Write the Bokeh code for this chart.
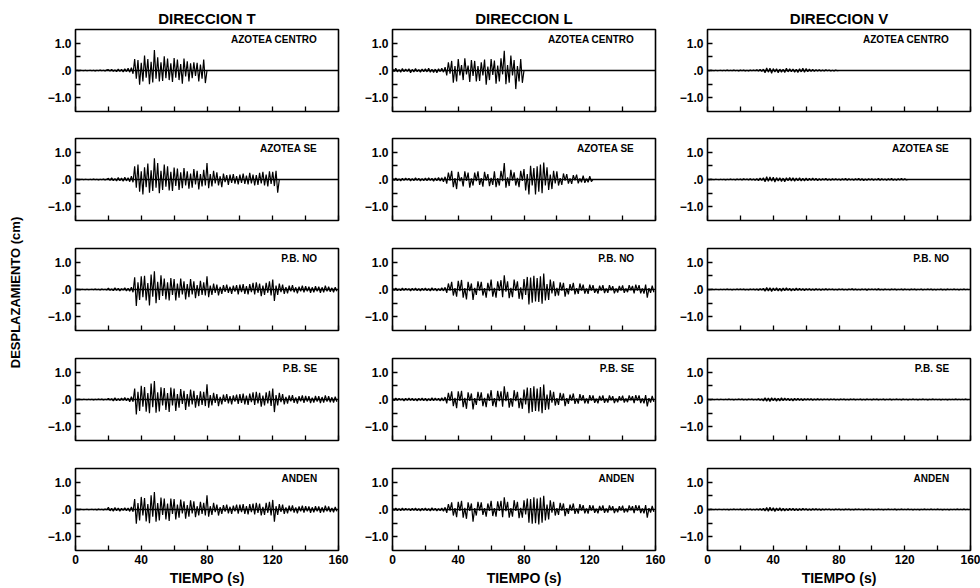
import math
import numpy as np
from bokeh.plotting import figure
from bokeh.layouts import column, row
from bokeh.models import FixedTicker, Span, Label
from bokeh.embed import file_html
from bokeh.resources import INLINE

FONT = "Liberation Sans"

# ---------------- data (displacement in hundredths of cm, sampled every DT s) ----
DT = 1.0
SCALE = 0.01

COLUMN_TITLES = ["DIRECCION T", "DIRECCION L", "DIRECCION V"]
STATIONS = ["AZOTEA CENTRO", "AZOTEA SE", "P.B. NO", "P.B. SE", "ANDEN"]
X_TICKS = [0, 40, 80, 120, 160]
X_MINOR = [20, 60, 100, 140]
X_ALL = [0, 20, 40, 60, 80, 100, 120, 140, 160]
Y_TICKS = [-1, 0, 1]
Y_TICK_LABELS = ["\u22121.0", ".0", "1.0"]
Y_MINOR = [-0.5, 0.5]
Y_LABEL = "DESPLAZAMIENTO (cm)"
X_LABEL = "TIEMPO (s)"

T_AZOTEA_CENTRO = [
    0, 1, -1, 1, 0, -1, 1, -1, 0, 1,
    -1, 1, -2, 1, -1, 2, -1, 1, -2, 2,
    3, -2, 4, -3, 2, -4, 5, -3, 4, -5,
    6, -4, 8, -6, 10, -12, 42, -30, 38, -52,
    28, -40, 55, -26, 42, -50, 32, -44, 75, -30,
    48, -40, 30, -38, 52, -28, 44, -35, 26, -42,
    46, -26, 40, -35, 24, -48, 44, -22, 34, -40,
    26, -28, 30, -20, 28, -40, 22, -30, 40, -46,
    0]

T_AZOTEA_SE = [
    0, 1, -1, 0, 1, -1, 1, 0, -1, 1,
    -1, 2, -1, 1, -2, 1, -1, 2, -2, 1,
    4, -3, 6, -4, 3, -5, 7, -4, 5, -6,
    8, -5, 6, -8, 12, -10, 48, -30, 55, -45,
    30, -55, 45, -28, 58, -48, 34, -42, 78, -30,
    60, -50, 32, -38, 55, -26, 48, -40, 28, -42,
    44, -24, 40, -38, 26, -32, 42, -22, 30, -34,
    22, -30, 38, -18, 32, -36, 20, -25, 35, -22,
    60, -32, 20, -25, 32, -14, 26, -22, 12, -28,
    22, -10, 16, -20, 18, -12, 20, -15, 12, -18,
    18, -12, 22, -16, 14, -18, 24, -14, 18, -22,
    16, -20, 24, -14, 28, -22, 18, -25, 30, -16,
    28, -24, 32, -48, 0]

T_PB_NO = [
    0, 1, 0, -1, 1, 0, -1, 1, -1, 0,
    1, -1, 2, -1, 1, -2, 2, -1, 1, -2,
    5, -3, 2, -4, 6, -3, 4, -5, 3, -2,
    6, -5, 4, -6, 8, -10, 45, -60, 26, -38,
    48, -28, 50, -40, 24, -58, 55, -26, 67, -50,
    28, -38, 52, -24, 40, -36, 26, -40, 42, -20,
    38, -40, 22, -30, 40, -18, 30, -36, 20, -28,
    38, -18, 30, -32, 16, -24, 32, -20, 26, -22,
    48, -28, 14, -20, 22, -12, 18, -22, 10, -16,
    16, -9, 18, -12, 10, -16, 14, -8, 16, -18,
    18, -10, 20, -16, 12, -18, 20, -10, 24, -18,
    26, -12, 22, -24, 14, -20, 24, -12, 30, -22,
    36, -42, 14, -20, 22, -10, 18, -16, 9, -14,
    14, -7, 16, -10, 8, -14, 10, -7, 14, -10,
    12, -7, 10, -12, 8, -10, 12, -7, 10, -12,
    8, -10, 14, -7, 10, -8, 6, -10, 8, -6]

T_PB_SE = [
    0, -1, 1, 0, -1, 1, 0, -1, 1, -1,
    1, -2, 1, -1, 2, -1, 2, -2, 1, -1,
    4, -2, 3, -5, 6, -4, 3, -4, 5, -3,
    7, -4, 5, -8, 10, -8, 40, -55, 28, -42,
    50, -26, 46, -45, 24, -50, 58, -28, 68, -48,
    26, -44, 45, -22, 42, -38, 24, -46, 44, -22,
    40, -42, 20, -30, 38, -16, 32, -38, 20, -26,
    36, -18, 32, -30, 16, -24, 30, -20, 28, -24,
    56, -30, 16, -22, 24, -12, 20, -24, 10, -18,
    18, -9, 20, -14, 12, -18, 15, -8, 18, -16,
    20, -12, 22, -18, 14, -20, 22, -10, 26, -20,
    28, -14, 24, -26, 14, -22, 26, -14, 32, -24,
    40, -46, 16, -22, 24, -10, 20, -18, 10, -15,
    15, -7, 16, -12, 8, -15, 12, -7, 15, -12,
    13, -8, 12, -13, 7, -11, 13, -8, 12, -13,
    9, -11, 15, -8, 12, -10, 8, -11, 10, -8]

T_ANDEN = [
    0, 1, -1, 1, 0, -1, 0, 1, -1, 0,
    1, -1, 1, -2, 2, -1, 1, -2, 2, -1,
    8, -5, 4, -6, 7, -4, 5, -6, 4, -3,
    6, -4, 5, -7, 9, -8, 38, -52, 24, -40,
    46, -22, 42, -44, 20, -50, 52, -26, 64, -45,
    24, -40, 44, -20, 40, -36, 22, -42, 40, -16,
    38, -36, 18, -30, 36, -14, 30, -34, 16, -26,
    34, -14, 30, -28, 12, -22, 28, -16, 24, -22,
    52, -26, 12, -20, 24, -10, 18, -22, 9, -16,
    16, -8, 18, -14, 10, -16, 14, -7, 18, -15,
    18, -10, 20, -16, 12, -18, 20, -10, 22, -18,
    24, -12, 22, -22, 10, -20, 24, -12, 28, -22,
    35, -45, 12, -20, 20, -9, 18, -16, 8, -14,
    14, -7, 15, -11, 8, -14, 11, -7, 14, -11,
    12, -7, 11, -12, 8, -10, 12, -7, 11, -12,
    8, -10, 14, -7, 11, -9, 6, -10, 9, -7]

L_AZOTEA_CENTRO = [
    6, -4, 8, -5, 3, -6, 7, -4, 5, -3,
    6, -8, 4, -5, 7, -4, 3, -6, 5, -4,
    6, -5, 8, -6, 4, -7, 5, -8, 6, -4,
    8, -6, 12, -18, 30, -12, 35, -45, 16, -40,
    42, -18, 20, -35, 45, -14, 18, -42, 38, -20,
    35, -40, 16, -38, 30, -18, 40, -52, 14, -35,
    42, -16, 36, -48, 18, -40, 45, -14, 72, -50,
    20, -45, 55, -18, 38, -68, 16, -40, 42, -45,
    0]

L_AZOTEA_SE = [
    4, -3, 5, -4, 2, -5, 4, -3, 5, -2,
    4, -5, 3, -4, 6, -3, 4, -5, 3, -4,
    5, -4, 6, -3, 4, -6, 5, -4, 7, -5,
    6, -8, 10, -15, 25, -4, 32, -28, 5, -35,
    28, -6, 8, -25, 30, -5, 25, -30, 4, -22,
    25, -6, 30, -20, 5, -26, 28, -4, 20, -24,
    6, -20, 30, -28, 5, -22, 32, -6, 60, -30,
    8, -24, 35, -4, 26, -22, 6, -28, 32, -5,
    38, -40, 20, -55, 50, -22, 42, -55, 48, -45,
    55, -50, 62, -22, 45, -38, 18, -35, 32, -14,
    30, -22, 5, -20, 22, -4, 20, -15, 4, -16,
    16, -3, 18, -14, 4, -10, 14, -12, 3, -10,
    12, -8, 0]

L_PB_NO = [
    4, -3, 5, -4, 2, -4, 5, -3, 4, -2,
    3, -5, 4, -3, 5, -4, 3, -5, 4, -3,
    5, -4, 3, -5, 6, -3, 4, -5, 3, -4,
    6, -5, 8, -12, 22, -4, 28, -22, 5, -26,
    32, -6, 35, -30, 5, -36, 28, -6, 22, -38,
    6, -20, 30, -4, 28, -22, 5, -30, 24, -6,
    36, -26, 6, -30, 30, -5, 34, -28, 52, -8,
    30, -32, 6, -28, 36, -5, 30, -34, 8, -36,
    38, -20, 46, -55, 44, -48, 50, -44, 42, -46,
    48, -52, 58, -40, 20, -38, 36, -14, 30, -24,
    6, -22, 26, -4, 24, -26, 5, -18, 20, -4,
    24, -18, 5, -16, 22, -4, 18, -15, 4, -16,
    18, -4, 16, -12, 3, -15, 14, -4, 16, -13,
    4, -12, 16, -3, 12, -14, 4, -11, 13, -4,
    15, -12, 4, -10, 16, -3, 13, -14, 18, -4,
    16, -14, 4, -15, 18, -30, 5, -12, 14, -10]

L_PB_SE = [
    3, -4, 5, -3, 4, -2, 3, -5, 4, -3,
    5, -3, 4, -4, 3, -5, 4, -3, 5, -4,
    4, -5, 3, -4, 6, -4, 5, -3, 4, -5,
    6, -5, 9, -14, 24, -5, 30, -24, 6, -32,
    30, -5, 32, -28, 6, -34, 26, -5, 22, -36,
    5, -20, 28, -5, 26, -24, 6, -28, 22, -5,
    34, -24, 5, -28, 32, -6, 30, -26, 48, -6,
    28, -30, 5, -26, 34, -6, 28, -32, 6, -34,
    36, -18, 44, -50, 42, -46, 48, -42, 40, -44,
    46, -50, 55, -38, 18, -36, 34, -12, 28, -22,
    5, -20, 24, -4, 22, -24, 5, -16, 18, -4,
    22, -16, 4, -15, 20, -4, 16, -14, 4, -15,
    16, -4, 15, -12, 3, -14, 13, -4, 15, -12,
    4, -11, 15, -3, 12, -13, 4, -10, 12, -4,
    14, -11, 4, -10, 15, -3, 12, -13, 16, -4,
    15, -13, 4, -14, 16, -25, 5, -11, 13, -9]

L_ANDEN = [
    4, -3, 5, -4, 3, -4, 5, -3, 4, -2,
    3, -4, 4, -3, 5, -4, 3, -5, 4, -3,
    5, -4, 3, -5, 6, -3, 4, -5, 3, -4,
    5, -6, 8, -12, 20, -4, 26, -22, 5, -28,
    28, -5, 32, -30, 6, -34, 26, -5, 22, -45,
    5, -22, 28, -4, 26, -20, 5, -26, 22, -5,
    32, -24, 5, -26, 30, -5, 32, -28, 45, -6,
    28, -30, 5, -26, 34, -5, 28, -32, 6, -30,
    34, -18, 40, -48, 38, -52, 45, -50, 40, -55,
    44, -48, 50, -40, 18, -36, 34, -12, 28, -22,
    5, -20, 24, -4, 22, -24, 5, -16, 18, -4,
    22, -16, 4, -15, 20, -4, 16, -14, 4, -15,
    16, -4, 15, -12, 3, -14, 13, -4, 15, -12,
    4, -11, 15, -3, 12, -13, 4, -10, 12, -4,
    14, -11, 4, -10, 15, -3, 12, -13, 16, -4,
    15, -13, 4, -14, 16, -30, 5, -11, 13, -9]

V_AZOTEA_CENTRO = [
    1, -1, 1, 0, -1, 1, -1, 0, 1, -1,
    1, -1, 2, -1, 1, -1, 2, -1, 1, -2,
    2, -1, 2, -2, 1, -2, 2, -1, 2, -1,
    3, -2, 4, -3, 5, -8, 9, -6, 8, -10,
    7, -5, 6, -8, 5, -6, 4, -7, 8, -5,
    6, -4, 5, -6, 4, -7, 6, -5, 8, -6,
    7, -4, 5, -3, 4, -3, 3, -2, 3, -2,
    2, -2, 3, -1, 2, -2, 1, -2, 2, -1,
    0]

V_AZOTEA_SE = [
    1, -1, 1, 0, -1, 1, 0, -1, 1, -1,
    1, -2, 1, -1, 2, -1, 1, -2, 2, -1,
    2, -2, 3, -1, 2, -2, 3, -2, 2, -3,
    3, -4, 5, -3, 6, -8, 10, -7, 9, -6,
    8, -9, 7, -5, 6, -7, 5, -8, 6, -4,
    7, -5, 6, -6, 5, -4, 6, -5, 4, -5,
    5, -4, 4, -3, 5, -3, 4, -4, 3, -3,
    3, -2, 4, -3, 2, -3, 3, -2, 3, -2,
    2, -3, 3, -2, 4, -3, 3, -2, 2, -3,
    3, -2, 4, -3, 3, -4, 2, -3, 3, -2,
    3, -3, 2, -2, 4, -3, 3, -2, 2, -3,
    3, -2, 4, -3, 2, -3, 3, -2, 4, -2,
    3, -2, 0]

V_PB_NO = [
    1, -1, 0, 1, -1, 1, 0, -1, 1, -1,
    1, -1, 2, -1, 1, -2, 1, -1, 2, -1,
    2, -1, 2, -2, 1, -2, 2, -1, 2, -2,
    2, -3, 3, -2, 4, -6, 7, -5, 6, -7,
    5, -4, 6, -5, 4, -6, 5, -4, 6, -3,
    4, -5, 3, -4, 5, -3, 4, -3, 3, -4,
    3, -2, 3, -3, 2, -3, 3, -2, 2, -3,
    2, -2, 3, -2, 2, -1, 2, -2, 1, -2,
    2, -1, 2, -2, 1, -2, 2, -1, 3, -2,
    2, -2, 1, -2, 2, -1, 2, -3, 2, -1,
    2, -1, 2, -2, 3, -2, 1, -2, 2, -1,
    1, -2, 2, -1, 2, -2, 1, -1, 2, -2,
    2, -1, 1, -2, 2, -1, 2, -2, 1, -1,
    2, -2, 1, -1, 2, -1, 2, -2, 1, -2,
    1, -1, 2, -2, 1, -2, 2, -1, 1, -1,
    2, -1, 1, -2, 1, -1, 2, -1, 1, -1]

V_PB_SE = [
    1, 0, -1, 1, -1, 0, 1, -1, 1, 0,
    -1, 1, -1, 2, -1, 1, -2, 1, -1, 2,
    -1, 2, -2, 1, -2, 2, -1, 2, -2, 1,
    -2, 3, -3, 2, -5, 6, -6, 5, -7, 6,
    -4, 5, -6, 4, -5, 6, -4, 5, -3, 4,
    -4, 3, -5, 4, -3, 4, -3, 3, -4, 3,
    -2, 3, -2, 3, -3, 2, -2, 3, -2, 2,
    -2, 2, -1, 2, -2, 2, -1, 2, -2, 1,
    -2, 2, -1, 2, -2, 1, -2, 2, -1, 2,
    -2, 1, -1, 2, -2, 1, -2, 2, -1, 1,
    -2, 2, -1, 2, -2, 1, -1, 2, -2, 1,
    -1, 2, -2, 1, -1, 2, -1, 1, -2, 2,
    -1, 1, -2, 1, -1, 2, -1, 1, -2, 1,
    -1, 2, -1, 1, -2, 1, -1, 2, -1, 1,
    -1, 1, -2, 1, -1, 1, -2, 1, -1, 1,
    -1, 2, -1, 1, -1, 1, -1, 2, -1, 0]

V_ANDEN = [
    1, -1, 1, 0, -1, 1, -1, 1, 0, -1,
    1, -1, 1, -2, 1, -1, 2, -1, 1, -1,
    2, -2, 1, -2, 2, -1, 2, -2, 1, -2,
    2, -2, 3, -3, 4, -5, 7, -6, 8, -5,
    6, -7, 5, -4, 6, -5, 4, -5, 3, -4,
    4, -3, 4, -4, 3, -4, 3, -3, 4, -2,
    3, -3, 2, -3, 3, -2, 3, -2, 2, -3,
    2, -2, 2, -1, 2, -2, 1, -2, 2, -1,
    2, -2, 1, -2, 2, -1, 2, -2, 1, -2,
    2, -1, 2, -1, 1, -2, 2, -1, 2, -1,
    1, -2, 1, -1, 2, -1, 1, -2, 1, -1,
    2, -1, 1, -1, 2, -2, 1, -1, 2, -1,
    1, -1, 2, -1, 1, -2, 1, -1, 1, -2,
    1, -1, 2, -1, 1, -1, 2, -1, 1, -1,
    2, -1, 1, -2, 1, -1, 1, -2, 1, -1,
    1, -1, 2, -1, 1, -1, 2, -1, 1, -1]

SERIES = [
    [T_AZOTEA_CENTRO, L_AZOTEA_CENTRO, V_AZOTEA_CENTRO],
    [T_AZOTEA_SE, L_AZOTEA_SE, V_AZOTEA_SE],
    [T_PB_NO, L_PB_NO, V_PB_NO],
    [T_PB_SE, L_PB_SE, V_PB_SE],
    [T_ANDEN, L_ANDEN, V_ANDEN],
]

# ---------------- layout ----------------
LABEL_W = 30
FRAME_W = 263
FRAME_H = 82
COL_LEFT = [45, 34, 34]
COL_RIGHT = [20, 18, 10]
ROW_TOP = [29, 14, 14, 14, 14]
ROW_BOTTOM = [13, 14, 14, 14, 38]
TOTAL_H = sum(ROW_TOP) + sum(ROW_BOTTOM) + 5 * FRAME_H


def make_panel(r, c):
    vals = SERIES[r][c]
    y = np.array(vals, dtype=float) * SCALE
    x = np.arange(len(y)) * DT
    w = COL_LEFT[c] + FRAME_W + COL_RIGHT[c]
    h = ROW_TOP[r] + FRAME_H + ROW_BOTTOM[r]
    p = figure(width=w, height=h, x_range=(0, 160), y_range=(-1.5, 1.5),
               output_backend="svg", toolbar_location=None,
               min_border_left=COL_LEFT[c], min_border_right=COL_RIGHT[c],
               min_border_top=ROW_TOP[r], min_border_bottom=ROW_BOTTOM[r])
    p.grid.visible = False
    p.outline_line_color = "black"
    p.outline_line_width = 1.6
    p.background_fill_color = "white"
    p.border_fill_color = "white"

    p.add_layout(Span(location=0, dimension="width", line_color="black", line_width=1.3))
    p.line(x, y, line_color="black", line_width=1.2)

    # x axis
    xa = p.xaxis[0]
    xa.major_tick_in = 5
    xa.major_tick_out = 0
    xa.minor_tick_in = 5
    xa.minor_tick_out = 0
    xa.major_tick_line_width = 1.3
    xa.minor_tick_line_width = 1.3
    xa.axis_line_color = None
    xa.major_label_text_font = FONT
    xa.major_label_text_font_style = "bold"
    xa.major_label_text_color = "black"
    if r == 4:
        xa.ticker = FixedTicker(ticks=X_TICKS, minor_ticks=X_MINOR)
        xa.major_label_text_font_size = "12px"
        xa.major_label_standoff = 4
        xa.axis_label = X_LABEL
        xa.axis_label_text_font = FONT
        xa.axis_label_text_font_size = "14px"
        xa.axis_label_text_font_style = "bold"
        xa.axis_label_text_color = "black"
        xa.axis_label_standoff = 3
    else:
        # tick marks only, no labels
        xa.ticker = FixedTicker(ticks=[], minor_ticks=X_ALL)
        xa.major_label_standoff = 0

    # y axis
    ya = p.yaxis[0]
    ya.ticker = FixedTicker(ticks=Y_TICKS, minor_ticks=Y_MINOR)
    ya.major_label_overrides = {k: v for k, v in zip(Y_TICKS, Y_TICK_LABELS)}
    ya.major_tick_in = 5
    ya.major_tick_out = 0
    ya.minor_tick_in = 5
    ya.minor_tick_out = 0
    ya.major_tick_line_width = 1.3
    ya.minor_tick_line_width = 1.3
    ya.axis_line_color = None
    ya.major_label_text_font = FONT
    ya.major_label_text_font_size = "12px"
    ya.major_label_text_font_style = "bold"
    ya.major_label_text_color = "black"
    ya.major_label_standoff = 4

    p.add_layout(Label(x=147, y=1.13, text=STATIONS[r], text_align="right",
                       text_baseline="middle", text_font=FONT,
                       text_font_size="10px", text_font_style="bold",
                       text_color="black"))

    if r == 0:
        p.title.text = COLUMN_TITLES[c]
        p.title.align = "center"
        p.title.text_font = FONT
        p.title.text_font_size = "15px"
        p.title.text_font_style = "bold"
        p.title.text_color = "black"
        p.title.standoff = 6
    return p


# strip holding the shared vertical axis title
lab = figure(width=LABEL_W, height=TOTAL_H, x_range=(0, LABEL_W), y_range=(0, TOTAL_H),
             output_backend="svg", toolbar_location=None,
             min_border_left=0, min_border_right=0, min_border_top=0, min_border_bottom=0)
lab.axis.visible = False
lab.grid.visible = False
lab.outline_line_color = None
lab.border_fill_color = "white"
lab.add_layout(Label(x=15, y=296, text=Y_LABEL, angle=math.pi / 2,
                     text_align="center", text_baseline="middle", text_font=FONT,
                     text_font_size="13px", text_font_style="bold", text_color="black"))

rows = []
for r in range(5):
    rows.append(row(*[make_panel(r, c) for c in range(3)], spacing=0))
layout = row(lab, column(*rows, spacing=0), spacing=0)

open("out.html", "w").write(file_html(layout, INLINE))
